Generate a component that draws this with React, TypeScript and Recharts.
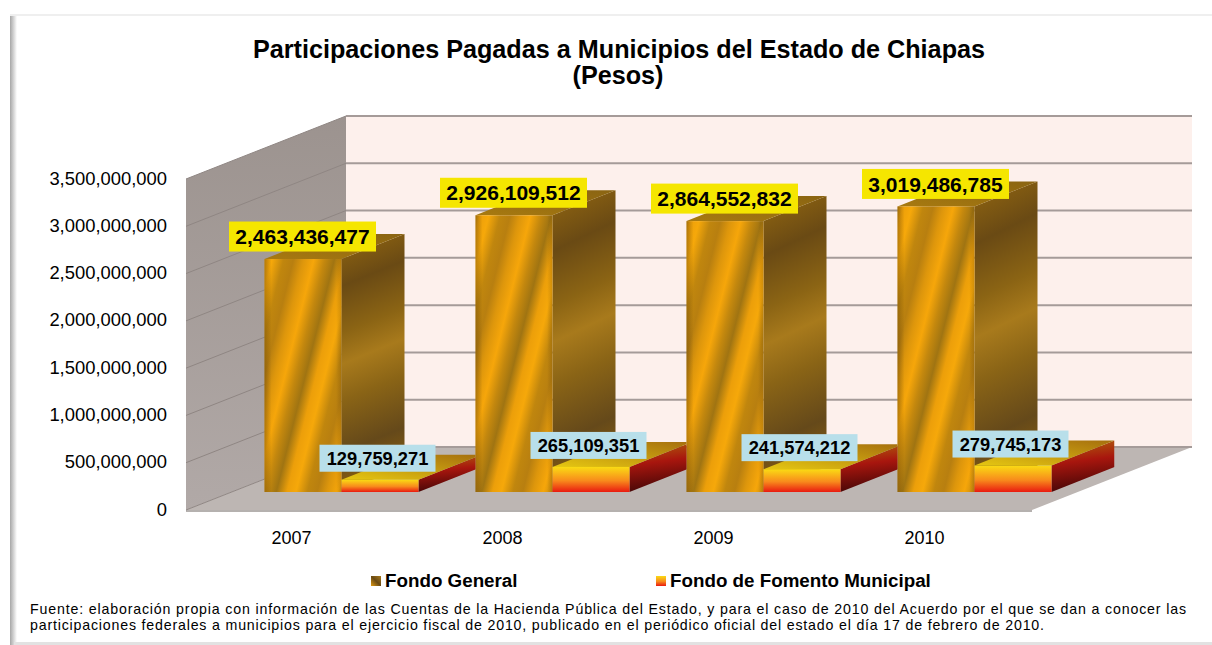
import { Bar, CartesianGrid, ComposedChart, LabelList, Legend, XAxis, YAxis } from 'recharts';

const categories = ['2007', '2008', '2009', '2010'];
const fondoGeneral = [2463436477, 2926109512, 2864552832, 3019486785];
const fondoFomento = [129759271, 265109351, 241574212, 279745173];
const yTicks = [0, 500000000, 1000000000, 1500000000, 2000000000, 2500000000, 3000000000, 3500000000];
const titleLines = ['Participaciones Pagadas a Municipios del Estado de Chiapas', '(Pesos)'];
const sourceLines = [
    'Fuente: elaboración propia con información de las Cuentas de la Hacienda Pública del Estado, y para el caso de 2010 del Acuerdo por el que se dan a conocer las',
    'participaciones federales a municipios para el ejercicio fiscal de 2010, publicado en el periódico oficial del estado el día 17 de febrero de 2010.',
];

const data = categories.map((year, i) => ({
    year,
    general: fondoGeneral[i],
    fomento: fondoFomento[i],
}));

const FONT = '"Liberation Sans", Arial, sans-serif';
const W = 1212;
const H = 645;
const PLOT = { left: 186, right: 1030, top: 179, bottom: 510 };
const FLOOR_RIGHT = 1032;
// wall depth of the 3d box, bars sit part way into it
const WALL_DX = 160;
const WALL_DY = -63;
const BAR_DX = 49.5;
const BAR_DY = -18;
const SIDE_DX = 63;
const SIDE_DY = -25;

const fmt = (v: number) => v.toLocaleString('en-US');

function Defs() {
    return (
        <defs>
            <linearGradient id="edgeShade" x1="0" y1="0" x2="1" y2="0">
                <stop offset="0" stopColor="#5e3f08" stopOpacity={0.4} />
                <stop offset="0.09" stopColor="#5e3f08" stopOpacity={0} />
                <stop offset="0.93" stopColor="#5e3f08" stopOpacity={0} />
                <stop offset="1" stopColor="#5e3f08" stopOpacity={0.25} />
            </linearGradient>
            <linearGradient id="bigSide" x1="0" y1="0" x2="0.1" y2="1">
                <stop offset="0" stopColor="#946810" />
                <stop offset="0.2" stopColor="#6a4a14" />
                <stop offset="0.38" stopColor="#8b6414" />
                <stop offset="0.5" stopColor="#a87a1c" />
                <stop offset="0.64" stopColor="#8a6416" />
                <stop offset="0.84" stopColor="#65491a" />
                <stop offset="1" stopColor="#8a6010" />
            </linearGradient>
            <linearGradient id="bigTop" x1="0" y1="1" x2="1" y2="0">
                <stop offset="0" stopColor="#a87a10" />
                <stop offset="1" stopColor="#8a6412" />
            </linearGradient>
            <linearGradient id="smallFront" x1="0" y1="0" x2="0" y2="1">
                <stop offset="0" stopColor="#fadb14" />
                <stop offset="0.55" stopColor="#f88a1c" />
                <stop offset="1" stopColor="#e91a10" />
            </linearGradient>
            <linearGradient id="smallSide" x1="0" y1="0" x2="0.15" y2="1">
                <stop offset="0" stopColor="#b0680c" />
                <stop offset="0.45" stopColor="#a8160e" />
                <stop offset="1" stopColor="#480707" />
            </linearGradient>
            <linearGradient id="smallTop" x1="0" y1="1" x2="1" y2="0">
                <stop offset="0" stopColor="#e6c812" />
                <stop offset="1" stopColor="#a56e0e" />
            </linearGradient>
            <linearGradient id="legendGeneral" x1="0" y1="1" x2="1" y2="0">
                <stop offset="0" stopColor="#e09a10" />
                <stop offset="0.5" stopColor="#6a4a14" />
                <stop offset="1" stopColor="#a87a1c" />
            </linearGradient>
        </defs>
    );
}

// back wall, left wall and floor, they sit behind the transparent chart
function Walls() {
    const { left, top, bottom } = PLOT;
    const right = FLOOR_RIGHT;
    const pts = (arr: number[][]) => arr.map((p) => p.join(',')).join(' ');
    return (
        <svg width={W} height={H} style={{ position: 'absolute', left: 0, top: 0 }}>
            <defs>
                <linearGradient id="leftWall" x1="0" y1="0" x2="0" y2="1">
                    <stop offset="0" stopColor="#9c938f" />
                    <stop offset="1" stopColor="#b1a9a7" />
                </linearGradient>
            </defs>
            <polygon
                points={pts([
                    [left + WALL_DX, top + WALL_DY],
                    [right + WALL_DX, top + WALL_DY],
                    [right + WALL_DX, bottom + WALL_DY],
                    [left + WALL_DX, bottom + WALL_DY],
                ])}
                fill="#fdf0ec"
            />
            <polygon
                points={pts([
                    [left, top],
                    [left + WALL_DX, top + WALL_DY],
                    [left + WALL_DX, bottom + WALL_DY],
                    [left, bottom],
                ])}
                fill="url(#leftWall)"
            />
            <polygon
                points={pts([
                    [left, bottom],
                    [left + WALL_DX, bottom + WALL_DY],
                    [right + WALL_DX, bottom + WALL_DY],
                    [right, bottom],
                ])}
                fill="#bdb6b3"
            />
            <line x1={left} y1={bottom + 1} x2={right} y2={bottom + 1} stroke="#9d9794" strokeWidth={1.5} />
        </svg>
    );
}

// one gridline, folded along the left wall and across the back wall
function WallLine(props: any) {
    const { x1, y1 } = props;
    const backY = y1 + WALL_DY;
    return (
        <g key={props.key ?? y1}>
            <line x1={x1} y1={y1} x2={x1 + WALL_DX} y2={backY} stroke="#8f8683" strokeWidth={1} />
            <line x1={x1 + WALL_DX} y1={backY} x2={FLOOR_RIGHT + WALL_DX} y2={backY} stroke="#a59b99" strokeWidth={2} />
        </g>
    );
}

function BigBar(props: any) {
    const { width: w, height: h, index } = props;
    const x = props.x + BAR_DX;
    const y = props.y + BAR_DY;
    const yc = y + h / 2;
    const id = `stripes-${index}`;
    return (
        <g>
            <linearGradient id={id} gradientUnits="userSpaceOnUse" x1={x} y1={yc} x2={x + w} y2={yc + w / 4} spreadMethod="repeat">
                <stop offset="0" stopColor="#b87f10" />
                <stop offset="0.12" stopColor="#dd960c" />
                <stop offset="0.25" stopColor="#f6a60a" />
                <stop offset="0.38" stopColor="#c4880e" />
                <stop offset="0.5" stopColor="#a07412" />
                <stop offset="0.63" stopColor="#ec9f0a" />
                <stop offset="0.74" stopColor="#f6a80a" />
                <stop offset="0.88" stopColor="#c0860e" />
                <stop offset="1" stopColor="#b87f10" />
            </linearGradient>
            <polygon
                points={`${x + w},${y} ${x + w + SIDE_DX},${y + SIDE_DY} ${x + w + SIDE_DX},${y + h + SIDE_DY} ${x + w},${y + h}`}
                fill="url(#bigSide)"
            />
            <polygon
                points={`${x},${y} ${x + w},${y} ${x + w + SIDE_DX},${y + SIDE_DY} ${x + SIDE_DX},${y + SIDE_DY}`}
                fill="url(#bigTop)"
            />
            <rect x={x} y={y} width={w} height={h} fill={`url(#${id})`} />
            <rect x={x} y={y} width={w} height={h} fill="url(#edgeShade)" />
        </g>
    );
}

function SmallBar(props: any) {
    const { width: w, height: h, index } = props;
    const x = props.x + BAR_DX;
    const y = props.y + BAR_DY;
    // the next year's tall bar stands in front of this side face
    const clipId = `sideClip-${index}`;
    const isLast = index === categories.length - 1;
    return (
        <g>
            <clipPath id={clipId}>
                <rect x={x} y={y + SIDE_DY - 2} width={w + (isLast ? SIDE_DX : 57)} height={h - SIDE_DY + 4} />
            </clipPath>
            <g clipPath={`url(#${clipId})`}>
                <polygon
                    points={`${x + w},${y} ${x + w + SIDE_DX},${y + SIDE_DY} ${x + w + SIDE_DX},${y + h + SIDE_DY} ${x + w},${y + h}`}
                    fill="url(#smallSide)"
                />
                <polygon
                    points={`${x},${y} ${x + w},${y} ${x + w + SIDE_DX},${y + SIDE_DY} ${x + SIDE_DX},${y + SIDE_DY}`}
                    fill="url(#smallTop)"
                />
            </g>
            <rect x={x} y={y} width={w} height={h} fill="url(#smallFront)" />
        </g>
    );
}

const valueBox = (bg: string, boxW: number, boxH: number, size: number, gap: number, shift: number) => (props: any) => {
    const { x, y, width, value } = props;
    const cx = x + BAR_DX + width / 2 + shift;
    const cy = y + BAR_DY - gap;
    return (
        <g>
            <rect x={cx - boxW / 2} y={cy - boxH / 2} width={boxW} height={boxH} fill={bg} />
            <text x={cx} y={cy + size * 0.36} textAnchor="middle" fontFamily={FONT} fontWeight="bold" fontSize={size} fill="#000">
                {fmt(value)}
            </text>
        </g>
    );
};

function ChartLegend() {
    const item = (x: number, label: string, fill: string) => (
        <div key={label} style={{ position: 'absolute', left: x, top: 0, display: 'flex', alignItems: 'center', height: 26 }}>
            <svg width={14} height={10} style={{ display: 'block' }}>
                <rect x={0} y={0} width={10} height={10} fill={fill} />
            </svg>
            <span style={{ fontFamily: FONT, fontWeight: 'bold', fontSize: 18.8, color: '#000', whiteSpace: 'nowrap' }}>{label}</span>
        </div>
    );
    return (
        <div style={{ position: 'relative', width: W, height: 26 }}>
            {item(371, 'Fondo General', 'url(#legendGeneral)')}
            {item(656, 'Fondo de Fomento Municipal', 'url(#smallFront)')}
        </div>
    );
}

function Texts() {
    return (
        <g fontFamily={FONT} fill="#000">
            <text x={619} y={58} textAnchor="middle" fontWeight="bold" fontSize={25.2}>
                {titleLines[0]}
            </text>
            <text x={618} y={84} textAnchor="middle" fontWeight="bold" fontSize={25.2}>
                {titleLines[1]}
            </text>
            <text x={30} y={614} fontSize={14.2} textLength={1156} lengthAdjust="spacing">
                {sourceLines[0]}
            </text>
            <text x={30} y={630} fontSize={14.2} textLength={1014} lengthAdjust="spacing">
                {sourceLines[1]}
            </text>
        </g>
    );
}

export default function App() {
    return (
        <div style={{ position: 'absolute', left: 0, top: 0, width: W, height: H, background: '#fff', overflow: 'hidden' }}>
            {/* soft page frame */}
            <div style={{ position: 'absolute', left: 10, top: 14, width: 7, height: 631, background: 'linear-gradient(90deg, #a6a6a6, #ffffff)' }} />
            <div style={{ position: 'absolute', left: 10, top: 14, width: W - 10, height: 2, background: '#efefef' }} />
            <div style={{ position: 'absolute', left: 14, top: 642, width: W - 14, height: 3, background: '#e2e2e2' }} />
            <Walls />
            <ComposedChart
                width={W}
                height={H}
                data={data}
                barCategoryGap={28.5}
                barGap={0}
                margin={{ top: PLOT.top, right: W - PLOT.right, bottom: H - PLOT.bottom - 60, left: 0 }}
                style={{ position: 'absolute', left: 0, top: 0 }}
            >
                <Defs />
                <CartesianGrid vertical={false} horizontal={WallLine} />
                <XAxis
                    dataKey="year"
                    height={60}
                    axisLine={false}
                    tickLine={false}
                    tickSize={0}
                    tickMargin={21}
                    tick={{ fontFamily: FONT, fontSize: 18, fill: '#000' }}
                />
                <YAxis
                    width={PLOT.left}
                    domain={[0, 3500000000]}
                    ticks={yTicks}
                    interval={0}
                    axisLine={false}
                    tickLine={false}
                    tickSize={0}
                    tickMargin={19}
                    dy={-1}
                    tickFormatter={fmt}
                    tick={{ fontFamily: FONT, fontSize: 18.4, fill: '#000' }}
                />
                <Bar dataKey="general" name="Fondo General" barSize={77} shape={BigBar} isAnimationActive={false}>
                    <LabelList dataKey="general" content={valueBox('#f5e600', 147, 30, 21, 22.5, -0.5)} />
                </Bar>
                <Bar dataKey="fomento" name="Fondo de Fomento Municipal" barSize={77} shape={SmallBar} isAnimationActive={false}>
                    <LabelList dataKey="fomento" content={valueBox('#b8dfea', 116, 27, 18.3, 21.5, -2.5)} />
                </Bar>
                <Legend
                    layout="horizontal"
                    verticalAlign="middle"
                    align="center"
                    content={<ChartLegend />}
                    wrapperStyle={{ left: 0, top: 568, width: W, height: 26 }}
                />
                <Texts />
            </ComposedChart>
        </div>
    );
}
